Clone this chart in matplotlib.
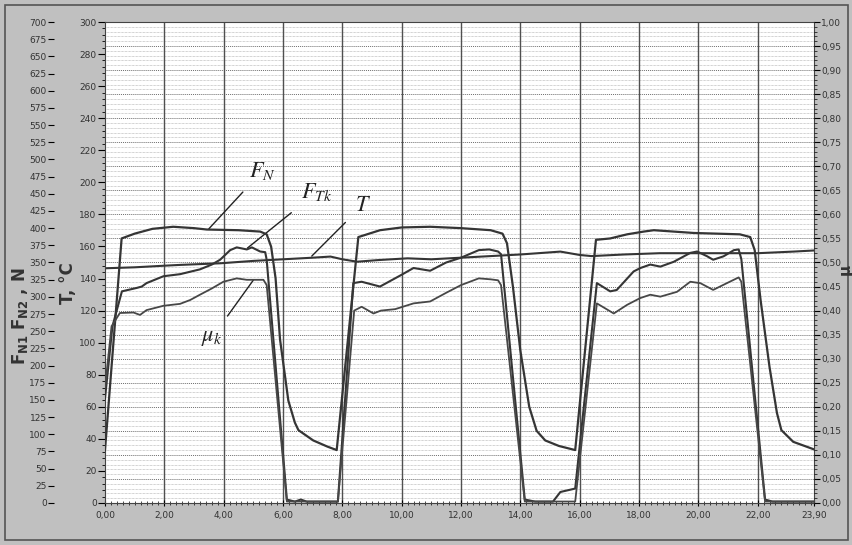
import numpy as np
import matplotlib
matplotlib.use("Agg")
import matplotlib.pyplot as plt
from matplotlib.ticker import MultipleLocator, FuncFormatter, FixedLocator
from matplotlib.patches import Rectangle

# F_N, N
fn_x = [0.0, 0.56, 1.0, 1.6, 2.3, 3.0, 3.43, 4.5, 5.23, 5.45, 5.6, 5.75, 5.9, 6.18, 6.4, 6.52, 7.02, 7.5, 7.81,
        8.54, 9.27, 10.0, 10.96, 12.0, 13.0, 13.4, 13.55, 13.75, 14.0, 14.3, 14.55, 14.84, 15.3, 15.85,
        16.55, 17.03, 17.6, 18.16, 18.5, 19.84, 21.4, 21.75, 21.9, 22.1, 22.4, 22.65, 22.8, 23.2, 23.9]
fn_y = [77, 385, 392, 399, 402, 400, 398, 397, 395, 391, 373, 327, 238, 149, 117, 106, 91, 82, 77,
        387, 397, 401, 402, 400, 397, 392, 378, 315, 222, 140, 105, 91, 83, 77,
        383, 385, 391, 395, 397, 393, 391, 387, 368, 295, 198, 131, 106, 89, 78]

# F_Tk, N
ft_x = [0.0, 0.25, 0.57, 1.07, 1.24, 1.4, 1.97, 2.53, 3.2, 3.6, 3.88, 4.22, 4.44, 4.78, 4.95, 5.23, 5.4, 5.45,
        6.13, 6.4, 6.6, 6.8, 7.85,
        8.37, 8.65, 9.27, 9.95, 10.4, 10.96, 11.5, 12.0, 12.6, 12.95, 13.25, 13.35,
        14.15, 14.5, 15.1, 15.35, 15.85,
        16.58, 17.03, 17.25, 17.82, 18.05, 18.38, 18.72, 19.17, 19.73, 19.96, 20.3, 20.5, 20.85, 21.2, 21.36, 21.45,
        22.25, 22.5, 23.9]
ft_y = [152, 257, 308, 313, 315, 320, 330, 333, 340, 347, 354, 368, 372, 369, 372, 366, 365, 354,
        5, 2, 5, 2, 2,
        320, 322, 315, 331, 342, 338, 350, 357, 368, 369, 366, 362,
        5, 2, 2, 16, 21,
        320, 308, 310, 337, 342, 347, 344, 351, 364, 366, 359, 354, 359, 368, 369, 355,
        5, 2, 2]

# T, degC
t_x = [0.0, 1.0, 2.0, 2.53, 3.88, 5.0, 6.0, 7.0, 7.6, 8.0, 8.5, 9.2, 10.2, 11.0, 12.0, 13.0, 14.0,
       15.35, 16.0, 16.4, 17.5, 18.7, 20.9, 22.0, 23.2, 23.9]
t_y = [146.4, 147.0, 148.0, 148.5, 149.5, 151.0, 152.0, 153.0, 153.7, 152.0, 150.5, 151.5, 152.6, 152.0,
       153.0, 154.0, 155.0, 156.8, 154.7, 154.0, 155.0, 155.8, 155.8, 155.8, 156.8, 157.5]

# mu_k
mu_x = [0.0, 0.22, 0.5, 0.96, 1.18, 1.4, 1.97, 2.53, 2.87, 3.2, 3.6, 3.99, 4.44, 4.78, 5.34, 5.45,
        6.13, 7.85,
        8.4, 8.65, 9.05, 9.3, 9.78, 10.4, 10.96, 11.5, 12.0, 12.6, 13.0, 13.25, 13.35,
        14.15, 15.85,
        16.58, 17.15, 17.6, 18.04, 18.38, 18.72, 19.28, 19.73, 20.07, 20.5, 20.96, 21.36, 21.45,
        22.25, 23.9]
mu_y = [0.240, 0.367, 0.395, 0.396, 0.391, 0.401, 0.410, 0.414, 0.422, 0.433, 0.446, 0.460, 0.467, 0.464, 0.464, 0.453,
        0.003, 0.003,
        0.400, 0.408, 0.394, 0.400, 0.403, 0.415, 0.419, 0.437, 0.453, 0.467, 0.465, 0.463, 0.453,
        0.003, 0.003,
        0.415, 0.394, 0.412, 0.426, 0.433, 0.429, 0.439, 0.460, 0.457, 0.443, 0.457, 0.469, 0.460,
        0.003, 0.003]

x_ticks = [0, 2, 4, 6, 8, 10, 12, 14, 16, 18, 20, 22, 23.9]


def comma(v, pos=None):
    return f"{v:.2f}".replace(".", ",")


fig = plt.figure(figsize=(8.53, 5.45), dpi=100, facecolor="#c0c0c0")
fig.patches.append(Rectangle((0.006, 0.01), 0.988, 0.98, transform=fig.transFigure,
                             fill=False, edgecolor="#555555", lw=1.2))
ax = fig.add_axes([0.1231, 0.0771, 0.8312, 0.8825])
ax.set_facecolor("white")

# T axis (inner left)
ax.set_xlim(0, 23.9)
ax.set_ylim(0, 300)
ax.yaxis.set_major_locator(MultipleLocator(20))
ax.yaxis.set_minor_locator(MultipleLocator(4))
ax.xaxis.set_major_locator(FixedLocator(x_ticks))
ax.xaxis.set_minor_locator(MultipleLocator(0.2))
ax.xaxis.set_major_formatter(FuncFormatter(comma))
ax.tick_params(axis="y", which="major", length=5, width=0.8, labelsize=6.5, labelcolor="#333333", pad=1)
ax.tick_params(axis="y", which="minor", length=2, width=0.6)
ax.tick_params(axis="x", which="major", direction="inout", length=5, width=0.8, labelsize=6.5,
               labelcolor="#333333", pad=3)
ax.tick_params(axis="x", which="minor", direction="inout", length=3, width=0.5)
for s in ax.spines.values():
    s.set_color("#444444")

# grid
for yv in np.arange(3, 300, 3):
    dark = abs(yv % 15) < 1e-6
    ax.axhline(yv, color="#6e6e6e" if dark else "#a8a8a8", lw=0.7 if dark else 0.5,
               ls=(0, (1, 1)), zorder=0.5)
for xv in range(2, 23, 2):
    ax.axvline(xv, color="#505050", lw=1.0, zorder=0.6)

# F axis (outer left)
axF = ax.twinx()
axF.yaxis.tick_left()
axF.spines["left"].set_position(("outward", 37))
for s in axF.spines.values():
    s.set_visible(False)
axF.set_ylim(0, 700)
axF.yaxis.set_major_locator(MultipleLocator(25))
axF.tick_params(axis="y", length=4, width=0.8, labelsize=6.5, labelcolor="#333333", pad=1)

# mu axis (right)
axM = ax.twinx()
axM.set_ylim(0, 1.0)
axM.yaxis.set_major_locator(MultipleLocator(0.05))
axM.yaxis.set_minor_locator(MultipleLocator(0.01))
axM.yaxis.set_major_formatter(FuncFormatter(comma))
axM.tick_params(axis="y", which="major", length=4, width=0.8, labelsize=6.5, labelcolor="#333333", pad=1)
axM.tick_params(axis="y", which="minor", length=2, width=0.5)
for s in axM.spines.values():
    s.set_visible(False)

line_c = "#353535"
ax.plot(t_x, t_y, color=line_c, lw=1.5)
axF.plot(fn_x, fn_y, color=line_c, lw=1.6)
axF.plot(ft_x, ft_y, color=line_c, lw=1.5)
axM.plot(mu_x, mu_y, color="#474747", lw=1.3)

# curve labels with leader lines (T axis units)
lbl = dict(fontsize=16, color="#222222", math_fontfamily="stix", ha="center", va="center")
ax.annotate(r"$F_N$", xy=(3.5, 171), xytext=(5.3, 207), textcoords="data",
            arrowprops=dict(arrowstyle="-", color="#222222", lw=1.0, shrinkA=7, shrinkB=0), **lbl)
ax.annotate(r"$F_{Tk}$", xy=(4.8, 159), xytext=(7.15, 194), textcoords="data",
            arrowprops=dict(arrowstyle="-", color="#222222", lw=1.0, shrinkA=8, shrinkB=0), **lbl)
ax.annotate(r"$T$", xy=(6.97, 154), xytext=(8.7, 186), textcoords="data",
            arrowprops=dict(arrowstyle="-", color="#222222", lw=1.0, shrinkA=7, shrinkB=0), **lbl)
ax.annotate(r"$\mu_k$", xy=(5.0, 139), xytext=(3.6, 103), textcoords="data",
            arrowprops=dict(arrowstyle="-", color="#222222", lw=1.0, shrinkA=8, shrinkB=0), **lbl)

# axis titles
fig.text(0.024, 0.42, r"$\mathbf{F_{N1}\ F_{N2}}$ , N", rotation=90, ha="center", va="center",
         fontsize=12, fontweight="bold", color="#333333", math_fontfamily="dejavusans")
fig.text(0.080, 0.48, "T, °C", rotation=90, ha="center", va="center",
         fontsize=12, fontweight="bold", color="#333333")
fig.text(0.9905, 0.505, "μ", rotation=90, ha="center", va="center",
         fontsize=11, fontweight="bold", color="#333333")

fig.savefig("out.png", dpi=100, facecolor=fig.get_facecolor())
